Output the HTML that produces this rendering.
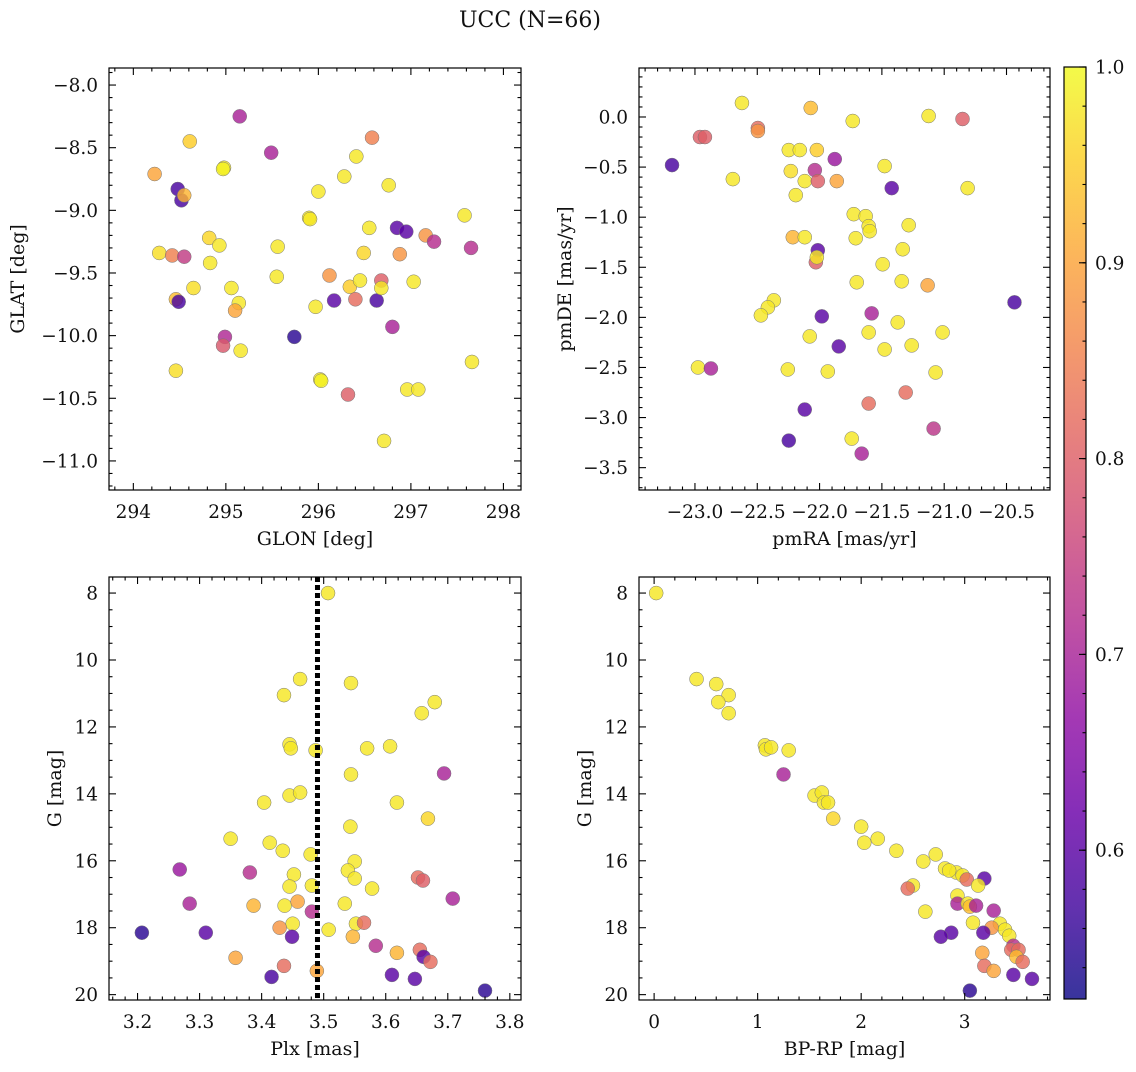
<!DOCTYPE html>
<html><head><meta charset="utf-8">
<style>
html,body{margin:0;padding:0;background:#fff;}
svg text{font-family:"DejaVu Serif","Liberation Serif",serif;fill:#111;}
</style></head>
<body>
<svg id="fig" width="1136" height="1067" viewBox="0 0 1136 1067" xmlns="http://www.w3.org/2000/svg">
<defs>
<linearGradient id="plasma" x1="0" y1="1" x2="0" y2="0"></linearGradient>
</defs>
<text x="530" y="27" font-size="22" text-anchor="middle">UCC (N=66)</text>
</svg>
<script>
// ---- Panel 1: GLON / GLAT ----
const p1Lon=[295.15,294.23,294.61,294.48,294.52,294.55,294.98,295.49,294.28,294.42,294.55,294.82,294.93,294.83,294.65,294.46,294.49,295.06,295.14,295.10,294.99,294.97,295.16,294.46,295.56,295.55,295.74,295.90,296.00,295.97,296.02,296.12,296.17,296.28,296.41,296.34,296.40,296.45,296.49,296.32,296.58,296.55,296.63,296.68,296.68,296.71,296.76,296.80,296.85,296.88,296.95,296.96,297.03,297.08,297.16,297.25,297.58,297.65,297.66,295.91,294.97,296.03];
const p1Lat=[-8.25,-8.71,-8.45,-8.83,-8.92,-8.88,-8.66,-8.54,-9.34,-9.36,-9.37,-9.22,-9.28,-9.42,-9.62,-9.71,-9.73,-9.62,-9.74,-9.80,-10.01,-10.08,-10.12,-10.28,-9.29,-9.53,-10.01,-9.06,-8.85,-9.77,-10.35,-9.52,-9.72,-8.73,-8.57,-9.61,-9.71,-9.56,-9.34,-10.47,-8.42,-9.14,-9.72,-9.56,-9.62,-10.84,-8.80,-9.93,-9.14,-9.35,-9.17,-10.43,-9.57,-10.43,-9.20,-9.25,-9.04,-9.30,-10.21,-9.07,-8.67,-10.36];
const p1Prob=[0.70,0.90,0.95,0.58,0.58,0.92,0.98,0.70,0.97,0.85,0.74,0.96,0.98,0.98,0.97,0.93,0.58,0.98,0.98,0.90,0.71,0.79,0.98,0.97,0.98,0.98,0.55,0.98,0.98,0.98,0.98,0.88,0.60,0.98,0.98,0.95,0.82,0.98,0.96,0.80,0.85,0.98,0.58,0.80,0.98,0.98,0.98,0.70,0.60,0.88,0.60,0.98,0.98,0.98,0.88,0.72,0.98,0.72,0.98,0.98,0.99,0.99];
// ---- Panel 2: pmRA / pmDE ----
const p2RA=[-22.623,-22.071,-21.125,-20.853,-21.734,-23.184,-22.960,-22.920,-22.495,-22.495,-22.247,-22.159,-22.022,-21.878,-22.231,-22.038,-21.478,-22.696,-22.119,-22.014,-21.862,-21.421,-20.812,-22.191,-21.726,-21.630,-21.606,-21.598,-21.285,-22.215,-22.119,-21.710,-22.014,-22.030,-22.022,-21.333,-21.494,-21.702,-21.341,-21.133,-20.436,-22.367,-22.415,-22.471,-21.582,-21.982,-22.079,-21.606,-21.373,-21.013,-21.846,-21.478,-21.261,-22.976,-22.872,-22.255,-21.934,-21.069,-21.606,-22.119,-21.309,-21.085,-22.247,-21.742,-21.662];
const p2DE=[0.14,0.09,0.01,-0.02,-0.04,-0.48,-0.20,-0.20,-0.11,-0.14,-0.33,-0.33,-0.33,-0.42,-0.54,-0.53,-0.49,-0.62,-0.64,-0.64,-0.64,-0.71,-0.71,-0.78,-0.97,-0.99,-1.09,-1.14,-1.08,-1.20,-1.20,-1.21,-1.33,-1.45,-1.40,-1.32,-1.47,-1.65,-1.64,-1.68,-1.85,-1.83,-1.90,-1.98,-1.96,-1.99,-2.19,-2.15,-2.05,-2.15,-2.29,-2.32,-2.28,-2.50,-2.51,-2.52,-2.54,-2.55,-2.86,-2.92,-2.75,-3.11,-3.23,-3.21,-3.36];
const p2Prob=[0.98,0.93,0.98,0.80,0.98,0.58,0.80,0.80,0.82,0.88,0.98,0.98,0.95,0.68,0.97,0.72,0.98,0.98,0.98,0.80,0.90,0.60,0.98,0.98,0.98,0.98,0.98,0.98,0.98,0.92,0.98,0.98,0.60,0.80,0.98,0.98,0.98,0.98,0.98,0.90,0.58,0.98,0.98,0.98,0.70,0.60,0.98,0.98,0.98,0.98,0.60,0.98,0.98,0.98,0.70,0.98,0.98,0.98,0.82,0.60,0.82,0.73,0.58,0.98,0.70];
// ---- Panel 3: Plx / G ----
const p3Plx=[3.507,3.462,3.436,3.544,3.679,3.658,3.445,3.447,3.487,3.570,3.607,3.694,3.544,3.404,3.445,3.462,3.618,3.668,3.543,3.350,3.413,3.434,3.479,3.550,3.268,3.539,3.381,3.452,3.550,3.652,3.660,3.578,3.445,3.481,3.284,3.387,3.437,3.458,3.534,3.708,3.481,3.450,3.429,3.552,3.565,3.508,3.207,3.310,3.449,3.547,3.584,3.618,3.655,3.661,3.672,3.358,3.436,3.489,3.610,3.416,3.647,3.760];
const p3G=[8.0,10.57,11.05,10.69,11.26,11.59,12.52,12.64,12.70,12.64,12.58,13.39,13.42,14.26,14.05,13.96,14.26,14.74,14.98,15.34,15.46,15.70,15.81,16.02,16.26,16.29,16.35,16.41,16.53,16.50,16.59,16.83,16.77,16.74,17.28,17.34,17.34,17.22,17.28,17.13,17.52,17.88,18.00,17.88,17.85,18.06,18.15,18.15,18.27,18.27,18.54,18.75,18.66,18.87,19.02,18.90,19.14,19.29,19.41,19.47,19.53,19.88];
const p3Prob=[0.98,0.98,0.98,0.98,0.98,0.98,0.98,0.98,0.98,0.98,0.98,0.70,0.98,0.98,0.98,0.98,0.98,0.96,0.98,0.98,0.98,0.98,0.98,0.98,0.68,0.98,0.72,0.98,0.98,0.82,0.80,0.98,0.98,0.98,0.70,0.92,0.98,0.90,0.98,0.70,0.72,0.98,0.88,0.98,0.82,0.98,0.55,0.60,0.60,0.92,0.72,0.92,0.82,0.60,0.82,0.90,0.82,0.90,0.60,0.58,0.60,0.55];
const p3Line=[3.49];
// ---- Panel 4: BP-RP / G ----
const p4C=[0.02,0.41,0.72,0.60,0.62,0.72,1.07,1.08,1.13,1.30,1.25,1.55,1.62,1.64,1.68,1.73,2.00,2.03,2.16,2.34,2.60,2.72,2.81,2.92,2.98,3.02,3.19,2.85,2.50,2.45,3.13,2.93,2.93,3.03,3.05,3.11,3.28,2.62,3.34,3.08,3.26,3.39,3.18,3.43,2.87,2.77,3.47,3.45,3.52,3.17,3.50,3.56,3.19,3.28,3.47,3.65,3.05];
const p4G=[8.0,10.57,11.05,10.72,11.26,11.59,12.55,12.67,12.61,12.70,13.42,14.05,13.96,14.26,14.26,14.74,14.98,15.46,15.34,15.70,16.02,15.81,16.23,16.35,16.44,16.56,16.53,16.29,16.74,16.83,16.74,17.04,17.28,17.28,17.37,17.34,17.49,17.52,17.88,17.85,18.00,18.06,18.15,18.24,18.15,18.27,18.54,18.66,18.66,18.75,18.87,19.02,19.14,19.29,19.41,19.53,19.88];
const p4Prob=[0.98,0.98,0.98,0.98,0.98,0.98,0.98,0.98,0.98,0.98,0.70,0.98,0.98,0.98,0.98,0.96,0.98,0.98,0.98,0.98,0.98,0.98,0.98,0.98,0.98,0.82,0.60,0.98,0.98,0.82,0.98,0.98,0.70,0.98,0.93,0.70,0.70,0.98,0.98,0.98,0.88,0.98,0.60,0.98,0.60,0.60,0.72,0.82,0.82,0.90,0.93,0.82,0.82,0.90,0.60,0.60,0.55];
const cbTicks=[0.6,0.7,0.8,0.9,1.0];

const NS="http://www.w3.org/2000/svg";
const svg=document.getElementById('fig');
const plasmaStops=["#0d0887","#41049d","#6a00a8","#8f0da4","#b12a90","#cc4778","#e16462","#f2844b","#fca636","#fcce25","#f0f921"];
const VMIN=0.524,VMAX=1.0;
const TF=18.5, LF=19;
function hex(h){return [1,3,5].map(i=>parseInt(h.substr(i,2),16));}
function cmap(v){let t=(v-VMIN)/(VMAX-VMIN);t=Math.max(0,Math.min(1,t));const f=t*10,i=Math.min(9,Math.floor(f)),r=f-i;const a=hex(plasmaStops[i]),b=hex(plasmaStops[i+1]);return 'rgb('+a.map((c,k)=>Math.round(c+(b[k]-c)*r)).join(',')+')';}
function el(tag,attrs,parent){const e=document.createElementNS(NS,tag);for(const k in attrs)e.setAttribute(k,attrs[k]);(parent||svg).appendChild(e);return e;}
function fmt(v,d){const s=v.toFixed(d);return v<0?'\u2212'+s.slice(1):s;}

function panel(o){
  const g=el('g',{});
  
  
  const sx=v=>o.x0+(v-o.xmin)/(o.xmax-o.xmin)*(o.x1-o.x0);
  const sy=v=>o.inv? o.y0+(v-o.ymin)/(o.ymax-o.ymin)*(o.y1-o.y0) : o.y1-(v-o.ymin)/(o.ymax-o.ymin)*(o.y1-o.y0);
  const pg=el('g',{},g);
  
  
  for(let i=0;i<Math.min(o.xs.length,o.ys.length);i++){
    const c=el('circle',{cx:sx(o.xs[i]),cy:sy(o.ys[i]),r:7,fill:cmap(o.cs[i]),'fill-opacity':0.82,stroke:'#777','stroke-width':0.5},pg);
    
    
  }
  if(o.vline){for(const v of o.vline){const l=el('line',{x1:sx(v),x2:sx(v),y1:o.y0,y2:o.y1,stroke:'#000','stroke-width':5,'stroke-dasharray':'5,3'},g);
    
    }}
  const fr=el('rect',{x:o.x0,y:o.y0,width:o.x1-o.x0,height:o.y1-o.y0,fill:'none',stroke:'#000','stroke-width':1.2},g);
  
  
  const E=1e-6;
  for(let v=Math.ceil(o.xmin/o.xmn-E)*o.xmn;v<=o.xmax+E;v+=o.xmn){
    const maj=Math.abs(v/o.xmj-Math.round(v/o.xmj))<1e-4;const L=maj?7:3.5;const X=sx(v);
    el('line',{x1:X,x2:X,y1:o.y1,y2:o.y1-L,stroke:'#000','stroke-width':1.1},g);
    el('line',{x1:X,x2:X,y1:o.y0,y2:o.y0+L,stroke:'#000','stroke-width':1.1},g);
    if(maj){const t=el('text',{x:X,y:o.y1+28,'font-size':TF,'text-anchor':'middle'},g);t.textContent=fmt(Math.round(v/o.xmj)*o.xmj,o.xd);
      
      }
  }
  for(let v=Math.ceil(o.ymin/o.ymn-E)*o.ymn;v<=o.ymax+E;v+=o.ymn){
    const maj=Math.abs(v/o.ymj-Math.round(v/o.ymj))<1e-4;const L=maj?7:3.5;const Y=sy(v);
    el('line',{x1:o.x0,x2:o.x0+L,y1:Y,y2:Y,stroke:'#000','stroke-width':1.1},g);
    el('line',{x1:o.x1,x2:o.x1-L,y1:Y,y2:Y,stroke:'#000','stroke-width':1.1},g);
    if(maj){const t=el('text',{x:o.x0-11,y:Y+6.5,'font-size':TF,'text-anchor':'end'},g);t.textContent=fmt(Math.round(v/o.ymj)*o.ymj,o.yd);
      
      }
  }
  const xt=el('text',{x:(o.x0+o.x1)/2,y:o.y1+55,'font-size':LF,'text-anchor':'middle'},g);xt.textContent=o.xl;
  
  
  const yx=o.ylx,yy=(o.y0+o.y1)/2;
  const yt=el('text',{x:yx,y:yy,'font-size':LF,'text-anchor':'middle',transform:'rotate(-90 '+yx+' '+yy+')'},g);yt.textContent=o.yl;
  
  
}
panel({name:'panel-glon-glat',x0:109,x1:521,y0:68,y1:490,xmin:293.737,xmax:298.19,ymin:-11.232,ymax:-7.864,xmj:1,xmn:0.2,ymj:0.5,ymn:0.1,xd:0,yd:1,xs:p1Lon,ys:p1Lat,cs:p1Prob,xl:'GLON [deg]',yl:'GLAT [deg]',ylx:24});
panel({name:'panel-pm',x0:639,x1:1050,y0:68,y1:490,xmin:-23.449,xmax:-20.151,ymin:-3.723,ymax:0.489,xmj:0.5,xmn:0.1,ymj:0.5,ymn:0.1,xd:1,yd:1,xs:p2RA,ys:p2DE,cs:p2Prob,xl:'pmRA [mas/yr]',yl:'pmDE [mas/yr]',ylx:571});
panel({name:'panel-plx-g',x0:109,x1:521,y0:577,y1:1000,xmin:3.154,xmax:3.818,ymin:7.52,ymax:20.16,inv:true,xmj:0.1,xmn:0.02,ymj:2,ymn:0.5,xd:1,yd:0,xs:p3Plx,ys:p3G,cs:p3Prob,vline:p3Line,xl:'Plx [mas]',yl:'G [mag]',ylx:61});
panel({name:'panel-cmd',x0:639,x1:1050,y0:577,y1:1000,xmin:-0.146,xmax:3.824,ymin:7.52,ymax:20.16,inv:true,xmj:1,xmn:0.2,ymj:2,ymn:0.5,xd:0,yd:0,xs:p4C,ys:p4G,cs:p4Prob,xl:'BP-RP [mag]',yl:'G [mag]',ylx:591});

const grad=document.getElementById('plasma');
for(let i=0;i<=20;i++){const v=VMIN+(VMAX-VMIN)*i/20;el('stop',{offset:(i/20),'stop-color':cmap(v)},grad);}
const cb=el('g',{});


const cx0=1064,cx1=1086,cy0=67,cy1=999;
el('rect',{x:cx0,y:cy0,width:cx1-cx0,height:cy1-cy0,fill:'url(#plasma)','fill-opacity':0.82},cb);
el('rect',{x:cx0,y:cy0,width:cx1-cx0,height:cy1-cy0,fill:'none',stroke:'#000','stroke-width':1.2},cb);
const cy=v=>cy1-(v-VMIN)/(VMAX-VMIN)*(cy1-cy0);
for(let v=0.54;v<=1.0001;v+=0.02){const Y=cy(v);el('line',{x1:cx1,x2:cx1-3.5,y1:Y,y2:Y,stroke:'#000','stroke-width':1.1},cb);}
for(const v of cbTicks){const Y=cy(v);el('line',{x1:cx1,x2:cx1-7,y1:Y,y2:Y,stroke:'#000','stroke-width':1.1},cb);
  const t=el('text',{x:cx1+9,y:Y+6.5,'font-size':TF},cb);t.textContent=v.toFixed(1);
  
  }
</script>
</body></html>
